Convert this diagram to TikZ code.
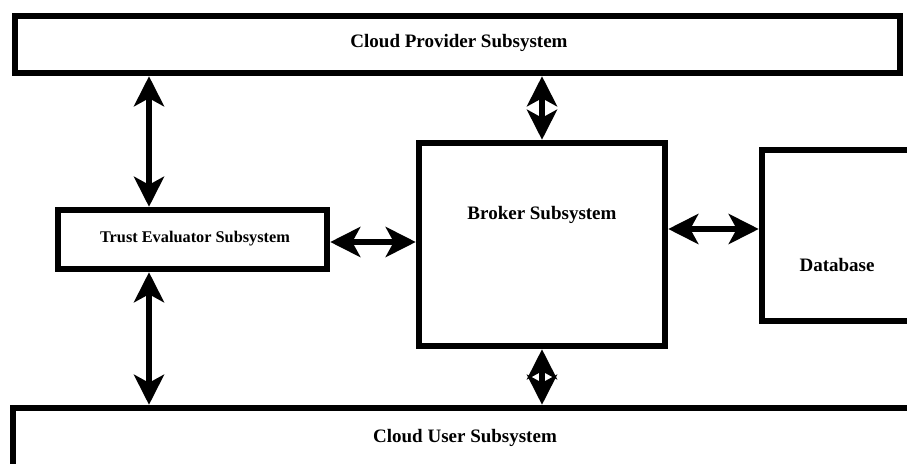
\documentclass[tikz,border=0pt]{standalone}
\usepackage{fontspec}
\setmainfont{Liberation Serif}
\usetikzlibrary{arrows.meta}
\tikzset{
  box/.style={draw=black, line width=6.5pt, rectangle, inner sep=0pt, fill=white},
  lbl/.style={inner sep=0pt, font=\bfseries\fontsize{19}{22}\selectfont},
  lblsmall/.style={inner sep=0pt, font=\bfseries\fontsize{16.3}{19}\selectfont},
  biarrow/.style={line width=6pt, {Stealth[length=30pt 0 0,width=30pt 0 0,inset=8pt 0]}-{Stealth[length=30pt 0 0,width=30pt 0 0,inset=8pt 0]}},
}
\begin{document}
\begin{tikzpicture}[x=1pt,y=-1pt]
\useasboundingbox (0,0) rectangle (907,463);
\clip (0,0) rectangle (907,463);
\fill[white] (0,0) rectangle (907,463);
% boxes
\node[box, minimum width=885pt, minimum height=57pt] (cp) at (457.5,44.5) {};
\node[lbl] (cpt) at (459,43) {Cloud Provider Subsystem};
\node[box, minimum width=269pt, minimum height=59pt] (trust) at (192.5,239.5) {};
\node[lblsmall] (trustt) at (195,238.5) {Trust Evaluator Subsystem};
\node[box, minimum width=246pt, minimum height=203pt] (broker) at (542,244.5) {};
\node[lbl] (brokert) at (542,214.5) {Broker Subsystem};
\node[box, minimum width=168pt, minimum height=171pt] (db) at (846,235.5) {};
\node[lbl] (dbt) at (837,264.5) {Database};
\node[box, minimum width=904pt, minimum height=72pt] (cu) at (465,444) {};
\node[lbl] (cut) at (465,437.5) {Cloud User Subsystem};
% helper coordinates
\coordinate (xl) at (149,0);
\coordinate (yt) at (0,242);
\coordinate (yd) at (0,229);
% connectors
\draw[biarrow] (xl |- cp.south) -- (xl |- trust.north);
\draw[biarrow] (xl |- trust.south) -- (xl |- cu.north);
\draw[biarrow] (broker.north) -- (broker.north |- cp.south);
\draw[biarrow] (broker.south) -- (broker.south |- cu.north);
\draw[biarrow] (yt -| trust.east) -- (yt -| broker.west);
\draw[biarrow] (yd -| broker.east) -- (yd -| db.west);
\end{tikzpicture}
\end{document}
